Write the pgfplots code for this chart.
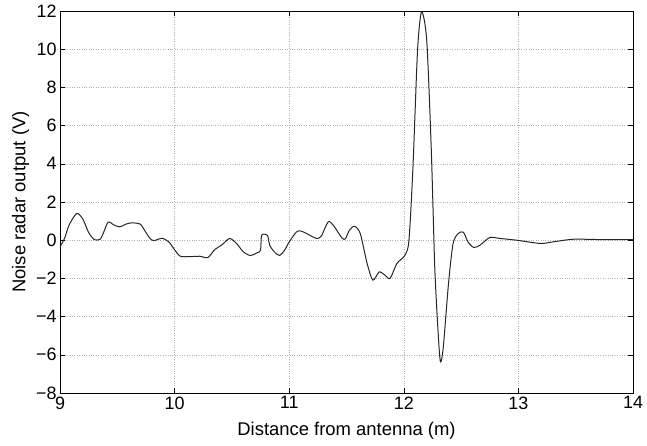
\documentclass[border=0pt]{standalone}
\usepackage{pgfplots}
\pgfplotsset{compat=1.18}
\usepackage{fontspec}
\setmainfont{Liberation Sans}
\begin{document}
\begin{tikzpicture}
\begin{axis}[
  scale only axis,
  width=573bp, height=382bp,
  xmin=9, xmax=14, ymin=-8, ymax=12,
  xtick={9,10,...,14}, ytick={-8,-6,...,12},
  yticklabels={−8,−6,−4,−2,0,2,4,6,8,10,12},
  /pgf/number format/assume math mode=true,
  tick label style={font=\fontsize{18}{20}\selectfont},
  label style={font=\fontsize{18.5}{21}\selectfont},
  xlabel={Distance from antenna (m)},
  ylabel={Noise radar output (V)},
  xlabel style={yshift=-6bp},
  ylabel style={yshift=0bp},
  tick align=inside, tick pos=both,
  major tick length=5bp,
  grid=major,
  major grid style={gray!60, dotted, line width=0.6bp},
  axis line style={black, line width=0.7bp},
  every tick/.style={black, line width=0.6bp},
  clip=true,
]
\addplot[black!85, line width=1bp, smooth, tension=0.45] coordinates {
(9.0,-0.35)(9.04,0.1)(9.08,0.8)(9.146,1.4)(9.2,1.1)(9.25,0.4)(9.3,0.03)
(9.35,0.05)(9.38,0.4)(9.42,0.95)(9.47,0.8)(9.52,0.7)(9.58,0.85)(9.63,0.91)
(9.70,0.84)(9.74,0.5)(9.785,0.09)(9.82,-0.02)(9.89,0.1)(9.95,-0.09)
(10.0,-0.5)(10.05,-0.84)(10.13,-0.86)(10.22,-0.84)(10.29,-0.91)(10.35,-0.49)
(10.41,-0.26)(10.48,0.09)(10.54,-0.17)(10.60,-0.61)(10.66,-0.80)(10.72,-0.66)
(10.75,-0.52)(10.76,0.26)(10.81,0.26)(10.83,-0.26)(10.87,-0.61)(10.915,-0.80)
(10.96,-0.52)(11.0,-0.09)(11.07,0.47)(11.12,0.44)(11.195,0.21)(11.24,0.09)
(11.28,0.21)(11.34,0.96)(11.385,0.78)(11.46,0.12)(11.49,0.07)(11.525,0.52)
(11.57,0.73)(11.62,0.35)(11.68,-1.22)(11.73,-2.09)(11.785,-1.66)(11.835,-1.83)
(11.88,-2.0)(11.94,-1.22)(12.01,-0.79)(12.045,0)(12.08,3.84)(12.12,9.95)
(12.155,11.95)(12.2,10.47)(12.24,4.71)(12.27,-1.4)(12.30,-4.88)(12.32,-6.37)
(12.345,-5.58)(12.39,-2.27)(12.43,-0.17)(12.475,0.35)(12.52,0.42)(12.56,-0.09)
(12.61,-0.38)(12.665,-0.26)(12.75,0.14)(12.84,0.09)(12.985,0)(13.19,-0.17)
(13.30,-0.09)(13.48,0.05)(13.74,0.03)(14.0,0.03)
};
\end{axis}
% white margin around the plot
\path (current axis.south west) ++(-60bp,-52bp) coordinate (bl);
\path (current axis.north east) ++(14bp,11bp) coordinate (tr);
\useasboundingbox (bl) rectangle (tr);
\end{tikzpicture}
\end{document}
